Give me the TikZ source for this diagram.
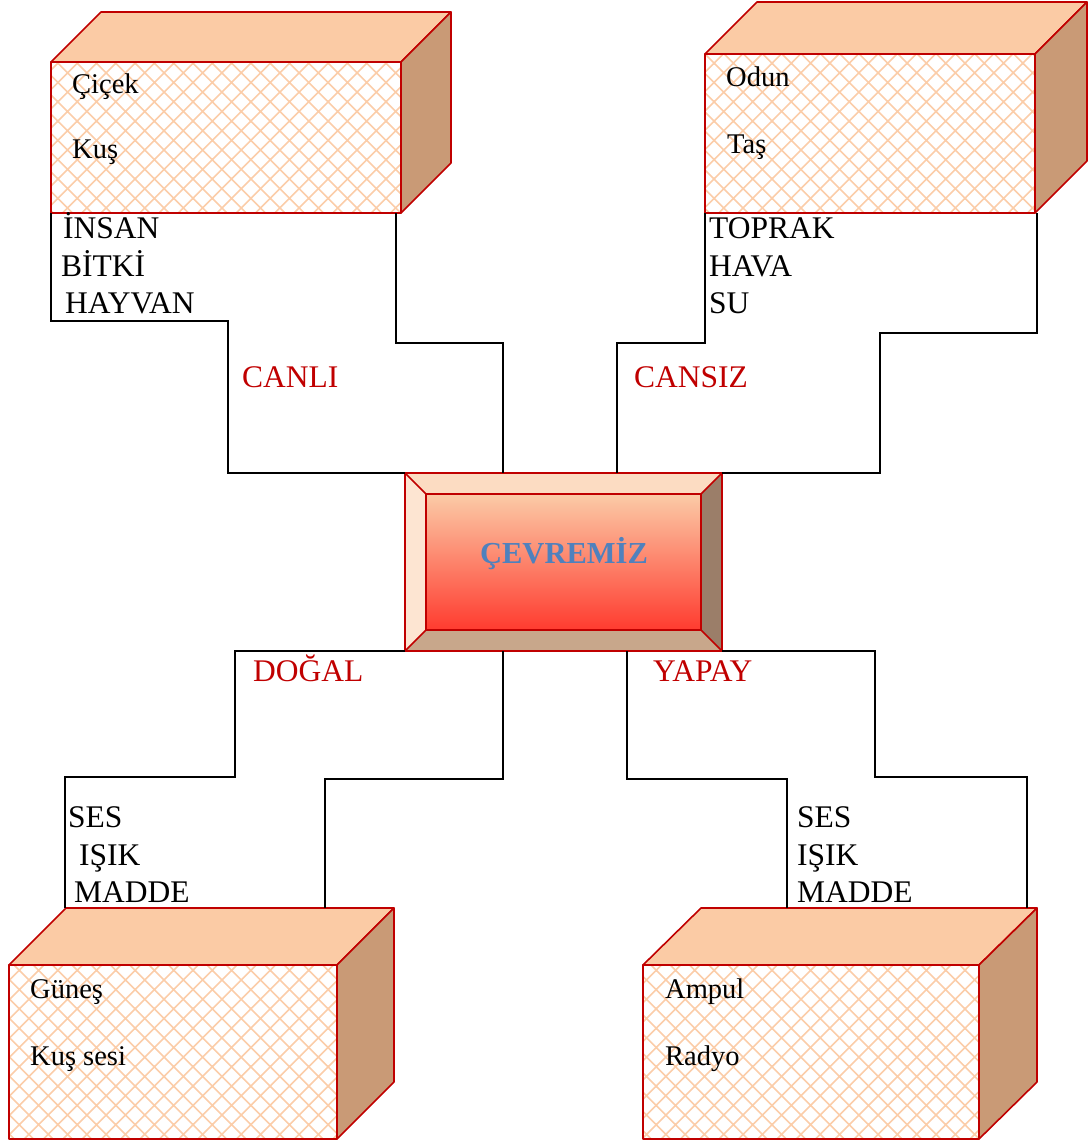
\documentclass[tikz,border=0pt]{standalone}
\usepackage{fontspec}
\setmainfont{Liberation Serif}
\usetikzlibrary{patterns,positioning}

\definecolor{kirmizi}{HTML}{C00000}
\definecolor{ustrenk}{HTML}{FBCBA5}
\definecolor{yanrenk}{HTML}{C99A76}
\definecolor{taramarenk}{HTML}{FBCDA9}
\definecolor{mavi}{HTML}{4F81BD}
\definecolor{bevelust}{HTML}{FCDCC2}
\definecolor{bevelsol}{HTML}{FDE5D2}
\definecolor{bevelsag}{HTML}{9B7E69}
\definecolor{bevelalt}{HTML}{C8A78B}
\definecolor{icust}{HTML}{FBCBA7}
\definecolor{icalt}{HTML}{FF3B2F}

% kafes deseni
\pgfdeclarepatternformonly{kafes}{\pgfqpoint{-1pt}{-1pt}}{\pgfqpoint{20.3pt}{20.3pt}}{\pgfqpoint{19.3pt}{19.3pt}}{
    \pgfsetlinewidth{1.6pt}
    \pgfpathmoveto{\pgfqpoint{-1pt}{-1pt}}\pgfpathlineto{\pgfqpoint{20.3pt}{20.3pt}}
    \pgfpathmoveto{\pgfqpoint{-1pt}{20.3pt}}\pgfpathlineto{\pgfqpoint{20.3pt}{-1pt}}
    \pgfusepath{stroke}}

\begin{document}
\begin{tikzpicture}[x=1pt,y=-1pt,
    hat/.style={black, line width=1.6pt},
    kenar/.style={draw=kirmizi, line width=1.6pt, line join=round},
    onyuz/.style={kenar, inner sep=0pt, outer sep=0pt, pattern=kafes, pattern color=taramarenk},
    ustyuz/.style={kenar, fill=ustrenk},
    yanyuz/.style={kenar, fill=yanrenk},
    kutuyazi/.style={font=\fontsize{28.5}{30}\selectfont, anchor=base west, inner sep=0pt},
    etiket/.style={font=\fontsize{31.5}{33}\selectfont, anchor=base west, inner sep=0pt},
    kirmiziyazi/.style={etiket, text=kirmizi}]
    \useasboundingbox (0,0) rectangle (1090,1144);

    % Kutular
    \node[onyuz, minimum width=350pt, minimum height=151pt] (cicek) at (226,137.5) {};
    \filldraw[ustyuz] (cicek.north west) -- ++(50,-50) -- ++(350,0) -- (cicek.north east) -- cycle;
    \filldraw[yanyuz] (cicek.north east) -- ++(50,-50) -- ++(0,151) -- (cicek.south east) -- cycle;

    \node[onyuz, minimum width=330pt, minimum height=159pt] (odun) at (870,133.5) {};
    \filldraw[ustyuz] (odun.north west) -- ++(52,-52) -- ++(330,0) -- (odun.north east) -- cycle;
    \filldraw[yanyuz] (odun.north east) -- ++(52,-52) -- ++(0,159) -- (odun.south east) -- cycle;

    \node[onyuz, minimum width=328pt, minimum height=174pt] (gunes) at (173,1052) {};
    \filldraw[ustyuz] (gunes.north west) -- ++(57,-57) -- ++(328,0) -- (gunes.north east) -- cycle;
    \filldraw[yanyuz] (gunes.north east) -- ++(57,-57) -- ++(0,174) -- (gunes.south east) -- cycle;
    \coordinate (gunesarka) at ([shift={(57,-57)}]gunes.north west);

    \node[onyuz, minimum width=336pt, minimum height=174pt] (ampul) at (811,1052) {};
    \filldraw[ustyuz] (ampul.north west) -- ++(58,-57) -- ++(336,0) -- (ampul.north east) -- cycle;
    \filldraw[yanyuz] (ampul.north east) -- ++(58,-57) -- ++(0,174) -- (ampul.south east) -- cycle;
    \coordinate (ampularka) at ([shift={(58,-57)}]ampul.north west);

    % Orta kutu
    \node[minimum width=317pt, minimum height=178pt, inner sep=0pt, outer sep=0pt] (merkez) at (563.5,562) {};
    \coordinate (m1) at ([shift={(21,21)}]merkez.north west);
    \coordinate (m2) at ([shift={(-21,21)}]merkez.north east);
    \coordinate (m3) at ([shift={(-21,-21)}]merkez.south east);
    \coordinate (m4) at ([shift={(21,-21)}]merkez.south west);
    \fill[bevelust] (merkez.north west) -- (merkez.north east) -- (m2) -- (m1) -- cycle;
    \fill[bevelsol] (merkez.north west) -- (m1) -- (m4) -- (merkez.south west) -- cycle;
    \fill[bevelsag] (merkez.north east) -- (merkez.south east) -- (m3) -- (m2) -- cycle;
    \fill[bevelalt] (merkez.south west) -- (m4) -- (m3) -- (merkez.south east) -- cycle;
    \shade[top color=icust, bottom color=icalt] (m1) rectangle (m3);
    \draw[kenar] (merkez.north west) rectangle (merkez.south east);
    \draw[kenar] (m1) rectangle (m3);
    \draw[kenar] (merkez.north west) -- (m1) (merkez.north east) -- (m2)
        (merkez.south east) -- (m3) (merkez.south west) -- (m4);
    \node[font=\fontsize{30.5}{32}\selectfont\bfseries, text=mavi, anchor=base, inner sep=0pt] (cevre) at (564,563) {ÇEVREMİZ};

    % Baglantilar
    \draw[hat] (cicek.south west) |- (228,321) |- (merkez.north west);

    \draw[hat] ([xshift=-5pt]cicek.south east) |- (503,343) -- ([xshift=98pt]merkez.north west);

    \draw[hat] (odun.south west) |- (617,343) -- ([xshift=212pt]merkez.north west);

    \draw[hat] ([xshift=2pt]odun.south east) |- (880,333) |- (merkez.north east);

    \draw[hat] (merkez.south west) -| (235,777) -| ([xshift=-1pt]gunesarka);

    \draw[hat] ([xshift=98pt]merkez.south west) |- (325,779) -- (325,779 |- gunesarka);

    \draw[hat] ([xshift=222pt]merkez.south west) |- (787,779) -- (787,779 |- ampularka);

    \draw[hat] (merkez.south east) -| (875,777) -| (1027,777 |- ampularka);

    % Yazilar
    \node[kutuyazi] (cicekyazi) at (72,93) {Çiçek};
    \node[kutuyazi] (kusyazi) at (72,158) {Kuş};
    \node[kutuyazi] (odunyazi) at (726,86) {Odun};
    \node[kutuyazi] (tasyazi) at (727,153) {Taş};
    \node[kutuyazi] (gunesyazi) at (30,998) {Güneş};
    \node[kutuyazi] (kussesi) at (30,1065) {Kuş sesi};
    \node[kutuyazi] (ampulyazi) at (665,998) {Ampul};
    \node[kutuyazi] (radyoyazi) at (665,1065) {Radyo};

    \node[etiket] (insan) at (63,238) {İNSAN};
    \node[etiket] (bitki) at (61,276) {BİTKİ};
    \node[etiket] (hayvan) at (65,313) {HAYVAN};
    \node[etiket] (toprak) at (709,238) {TOPRAK};
    \node[etiket] (hava) at (709,276) {HAVA};
    \node[etiket] (su) at (709,313) {SU};

    \node[etiket] (ses1) at (68,827) {SES};
    \node[etiket] (isik1) at (79,865) {IŞIK};
    \node[etiket] (madde1) at (74,902) {MADDE};
    \node[etiket] (ses2) at (797,827) {SES};
    \node[etiket] (isik2) at (797,865) {IŞIK};
    \node[etiket] (madde2) at (797,902) {MADDE};

    \node[kirmiziyazi] (canli) at (242,387) {CANLI};
    \node[kirmiziyazi] (cansiz) at (634,387) {CANSIZ};
    \node[kirmiziyazi] (dogal) at (253,681) {DOĞAL};
    \node[kirmiziyazi] (yapay) at (653,681) {YAPAY};
\end{tikzpicture}
\end{document}
